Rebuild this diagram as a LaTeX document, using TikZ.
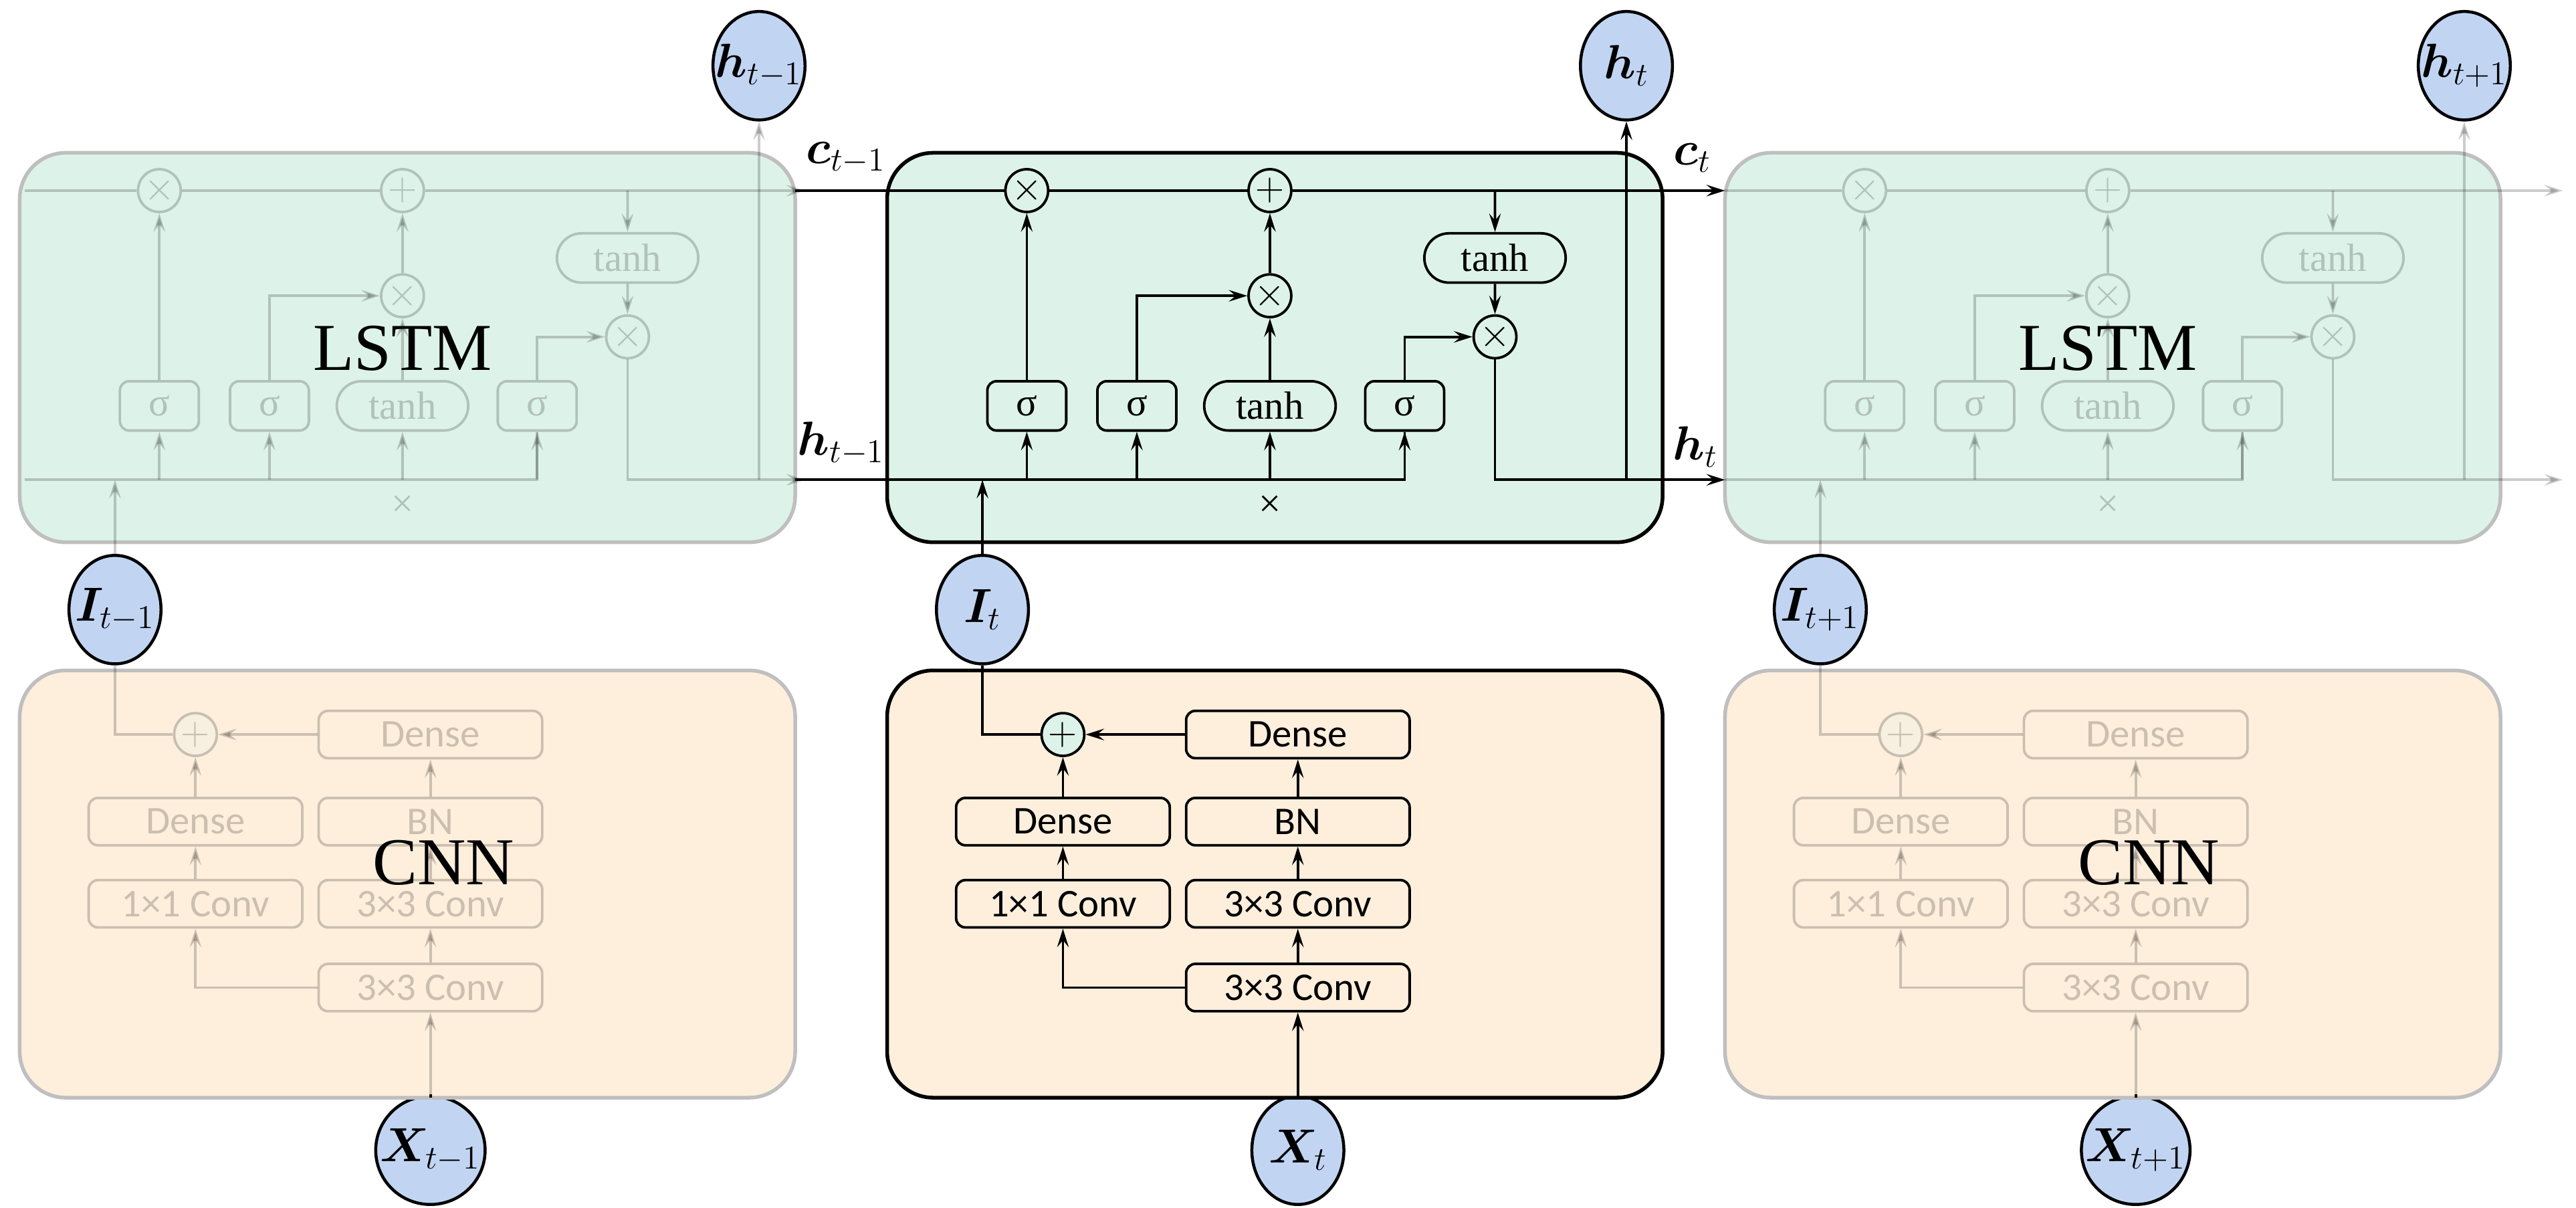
\documentclass[tikz,border=0pt]{standalone}
\usepackage{fontspec}
\usepackage{bm}
\setmainfont{Liberation Serif}
\newfontfamily\cnnfont{Carlito}
\usetikzlibrary{arrows.meta,shapes.geometric,shapes.misc}
\definecolor{lstmfill}{HTML}{DDF3E9}
\definecolor{cnnfill}{HTML}{FEEFDD}
\definecolor{varfill}{HTML}{C1D5F3}

% one time step: #1 prefix, #2 x offset, #3 opacity, #4 bus start, #5 bus end, #6 block border
\newcommand\mkcell[6]{%
\begin{scope}[shift={(#2,0)}]
  \draw[block, draw=#6, fill=lstmfill] (0,93) rectangle (472,330);
  \draw[block, draw=#6, fill=cnnfill] (0,408) rectangle (472,668);
  \begin{scope}[opacity=#3]
    % LSTM cell
    \node[op] (#1-m1) at (85,116) {$\times$};
    \node[op] (#1-pl) at (233,116) {$+$};
    \node[op] (#1-m2) at (233,180) {$\times$};
    \node[pill, minimum width=2.15cm] (#1-th) at (370,157) {tanh};
    \node[op] (#1-m3) at (370,205) {$\times$};
    \node[gate] (#1-g1) at (85,247) {σ};
    \node[gate] (#1-g2) at (152,247) {σ};
    \node[pill] (#1-g3) at (233,247) {tanh};
    \node[gate] (#1-g4) at (315,247) {σ};
    \coordinate (#1-cs) at (#4,116);
    \coordinate (#1-ce) at (#5,116);
    \coordinate (#1-hs) at (#4,292);
    \coordinate (#1-he) at (#5,292);
    \coordinate (#1-bi) at (58,292);
    \coordinate (#1-ho) at (450,292);
    \coordinate (#1-ct) at (370,116);
    \draw[->] (#1-cs) -- (#1-m1) -- (#1-pl) -- (#1-ce);
    \draw (#1-hs) -- (315,292) -- (#1-g4.south);
    \draw[->] (#1-g4.south |- #1-hs) -- (#1-g4);
    \draw[->] (#1-g1.south |- #1-hs) -- (#1-g1);
    \draw[->] (#1-g2.south |- #1-hs) -- (#1-g2);
    \draw[->] (#1-g3.south |- #1-hs) -- (#1-g3);
    \draw[->] (#1-g1) -- (#1-m1);
    \draw[->] (#1-g2) |- (#1-m2);
    \draw[->] (#1-g3) -- (#1-m2);
    \draw[->] (#1-m2) -- (#1-pl);
    \draw[->] (#1-ct) -- (#1-th);
    \draw[->] (#1-th) -- (#1-m3);
    \draw[->] (#1-g4) |- (#1-m3);
    \draw[->] (#1-m3) |- (#1-he);
    \draw[->] (#1-ho) -- (#1-h);
    \draw[->] (#1-I) -- (#1-bi);
    \node[font=\fontsize{17}{17}\selectfont] (#1-xl) at (233,308) {×};
    % CNN block
    \node[op] (#1-add) at (107,447) {$+$};
    \node[conv, minimum width=3.4cm] (#1-d2) at (250,447) {Dense};
    \node[conv, minimum width=3.4cm] (#1-bn) at (250,500) {BN};
    \node[conv, minimum width=3.4cm] (#1-c3a) at (250,550) {3×3 Conv};
    \node[conv, minimum width=3.4cm] (#1-c3b) at (250,601) {3×3 Conv};
    \node[conv, minimum width=3.25cm] (#1-d1) at (107,500) {Dense};
    \node[conv, minimum width=3.25cm] (#1-c1) at (107,550) {1×1 Conv};
    \coordinate (#1-xb) at (250,668);
    \draw[opacity=1] (#1-X) -- (#1-xb);
    \draw[->] (#1-xb) -- (#1-c3b);
    \draw[->] (#1-c3b) -- (#1-c3a);
    \draw[->] (#1-c3a) -- (#1-bn);
    \draw[->] (#1-bn) -- (#1-d2);
    \draw[->] (#1-d2) -- (#1-add);
    \draw[->] (#1-c1) -- (#1-d1);
    \draw[->] (#1-d1) -- (#1-add);
    \draw[->] (#1-c3b) -| (#1-c1);
    \draw (#1-add) -| (#1-I);
  \end{scope}
\end{scope}}

\begin{document}
\begin{tikzpicture}[x=0.025cm, y=-0.025cm, line width=1.1pt, >={Stealth[length=8pt,width=5pt,inset=3pt]},
  block/.style={line width=1.6pt, rounded corners=0.7cm},
  var/.style={ellipse, draw=black, line width=1.3pt, fill=varfill, minimum width=1.4cm, minimum height=1.65cm, inner xsep=-5pt, inner ysep=0pt, font=\fontsize{21}{22}\selectfont},
  op/.style={circle, draw, fill=lstmfill, minimum size=0.65cm, inner sep=0pt, font=\fontsize{16}{16}\selectfont},
  gate/.style={draw, rounded corners=4pt, minimum width=1.2cm, minimum height=0.75cm, inner sep=0pt, font=\fontsize{17}{17}\selectfont},
  pill/.style={draw, rounded rectangle, minimum width=2cm, minimum height=0.75cm, inner sep=0pt, font=\fontsize{17}{17}\selectfont},
  conv/.style={draw, fill=cnnfill, rounded corners=4pt, minimum height=0.72cm, inner sep=0pt, font=\cnnfont\fontsize{17}{17}\selectfont},
  lbl/.style={font=\fontsize{20}{20}\selectfont},
  big/.style={font=\fontsize{29}{30}\selectfont}]
  \useasboundingbox (0,0) rectangle (1568,735);

  % input, feature and output variables
  \node[var] (L-h) at (462,40) {$\bm{h}_{t-1}$};
  \node[var] (C-h) at (990,40) {$\bm{h}_{t}$};
  \node[var] (R-h) at (1500,40) {$\bm{h}_{t+1}$};
  \node[var] (L-I) at (70,371) {$\bm{I}_{t-1}$};
  \node[var] (C-I) at (598,371) {$\bm{I}_{t}$};
  \node[var] (R-I) at (1108,371) {$\bm{I}_{t+1}$};
  \node[var] (L-X) at (262,700) {$\bm{X}_{t-1}$};
  \node[var] (C-X) at (790,700) {$\bm{X}_{t}$};
  \node[var] (R-X) at (1300,700) {$\bm{X}_{t+1}$};

  \mkcell{L}{12}{0.2}{3}{478}{black!25}
  \mkcell{R}{1050}{0.2}{0}{510}{black!25}
  \mkcell{C}{540}{1}{-56}{510}{black}

  % labels of the faded copies
  \node[big] (L-lstm) at (245,212) {LSTM};
  \node[big] (L-cnn) at (270,525) {CNN};
  \node[big] (R-lstm) at (1283,212) {LSTM};
  \node[big] (R-cnn) at (1308,525) {CNN};

  % state labels
  \node[lbl] (lc1) at (515,96) {$\bm{c}_{t-1}$};
  \node[lbl] (lh1) at (512,270) {$\bm{h}_{t-1}$};
  \node[lbl] (lc2) at (1030,96) {$\bm{c}_{t}$};
  \node[lbl] (lh2) at (1032,272) {$\bm{h}_{t}$};
\end{tikzpicture}
\end{document}
